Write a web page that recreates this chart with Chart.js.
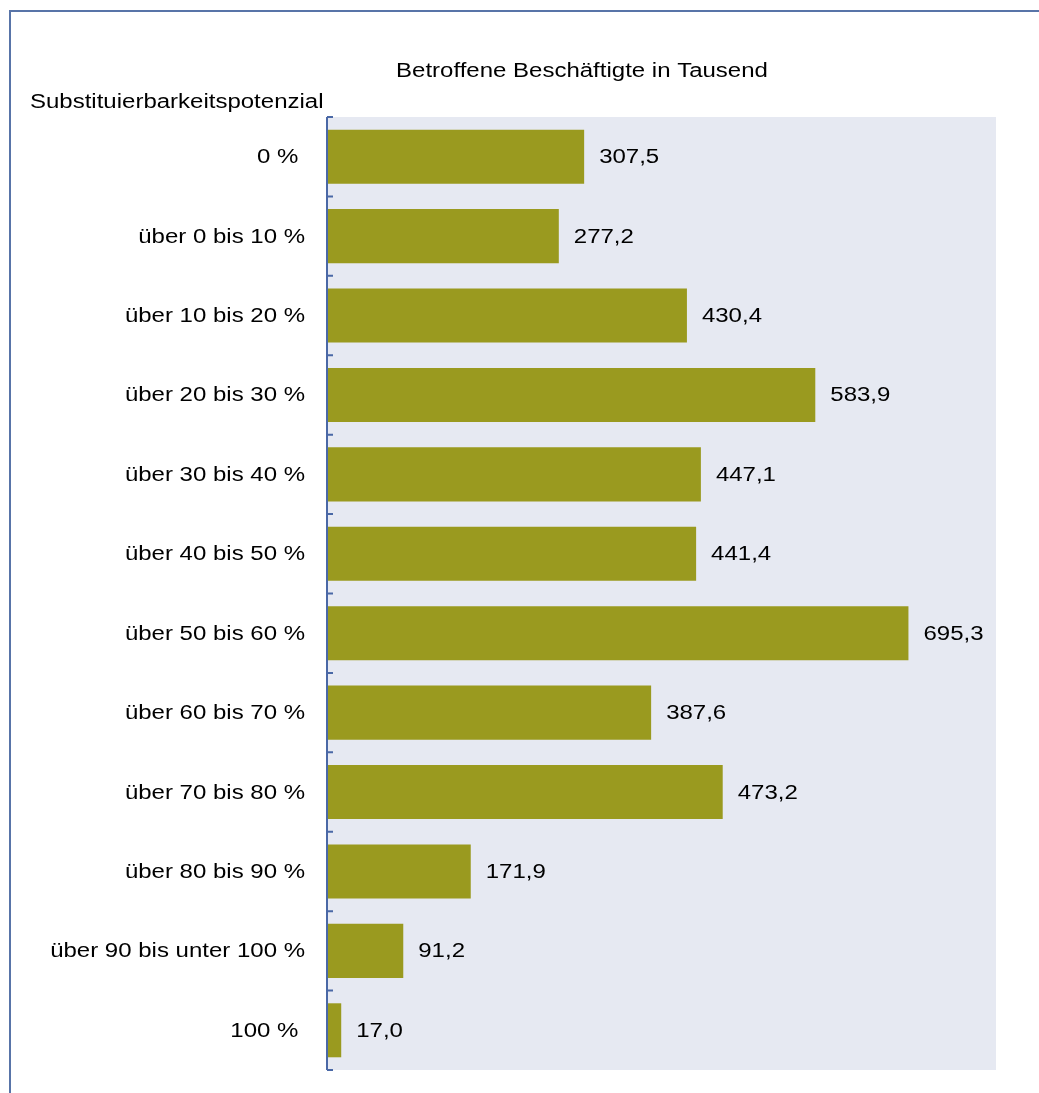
<!DOCTYPE html>
<html>
<head>
<meta charset="utf-8">
<script src="https://cdn.jsdelivr.net/npm/chart.js@4"></script>
<style>
  body { margin: 0; background: #fff; }
  canvas { display: block; }
</style>
</head>
<body>
<canvas id="myChart" width="1039" height="1093"></canvas>
<script>
const categories = ['0 % ', 'über 0 bis 10 %', 'über 10 bis 20 %', 'über 20 bis 30 %', 'über 30 bis 40 %',
  'über 40 bis 50 %', 'über 50 bis 60 %', 'über 60 bis 70 %', 'über 70 bis 80 %', 'über 80 bis 90 %',
  'über 90 bis unter 100 %', '100 % ']
const values = [307.5, 277.2, 430.4, 583.9, 447.1, 441.4, 695.3, 387.6, 473.2, 171.9, 91.2, 17.0]

const FONT = '"Liberation Sans", Arial, sans-serif'
const frameColor = '#5874a8'
const axisColor = '#4a68a6'
const SX = 1.2  // text in the original is a bit wider than plain Arial

// draw text stretched horizontally
function wideText(ctx, txt, x, y, align) {
  ctx.save()
  ctx.translate(x, y)
  ctx.scale(SX, 1)
  ctx.textAlign = align
  ctx.fillText(txt, 0, 0)
  ctx.restore()
}

const decor = {
  id: 'decor',
  beforeDraw(chart) {
    const {ctx, chartArea: a} = chart
    ctx.save()
    ctx.fillStyle = '#e6e9f2'
    ctx.fillRect(a.left, a.top, a.right - a.left, a.bottom - a.top)
    ctx.strokeStyle = frameColor
    ctx.lineWidth = 2
    ctx.beginPath()
    ctx.moveTo(10, 1093)
    ctx.lineTo(10, 11)
    ctx.lineTo(1039, 11)
    ctx.stroke()
    ctx.fillStyle = '#000'
    ctx.font = '20px ' + FONT
    ctx.textBaseline = 'middle'
    wideText(ctx, 'Betroffene Beschäftigte in Tausend', 582, 71, 'center')
    wideText(ctx, 'Substituierbarkeitspotenzial', 30, 102, 'left')
    ctx.restore()
  },
  afterDraw(chart) {
    const {ctx, chartArea: a} = chart
    const ys = chart.scales.y
    ctx.save()
    // axis line with inward ticks at category borders
    ctx.strokeStyle = axisColor
    ctx.lineWidth = 2
    ctx.beginPath()
    ctx.moveTo(a.left, a.top)
    ctx.lineTo(a.left, a.bottom)
    const step = (a.bottom - a.top) / categories.length
    for (let i = 0; i <= categories.length; i++) {
      const ty = a.top + i * step
      ctx.moveTo(a.left, ty)
      ctx.lineTo(a.left + 6, ty)
    }
    ctx.stroke()
    ctx.fillStyle = '#000'
    ctx.font = '20px ' + FONT
    ctx.textBaseline = 'middle'
    // category labels
    categories.forEach((c, i) => {
      wideText(ctx, c, 305, ys.getPixelForValue(i) + 1, 'right')
    })
    // value labels
    chart.getDatasetMeta(0).data.forEach((bar, i) => {
      wideText(ctx, values[i].toFixed(1).replace('.', ','), bar.x + 15, bar.y + 1, 'left')
    })
    ctx.restore()
  }
}

const ctx = document.getElementById('myChart').getContext('2d')
const myChart = new Chart(ctx, {
  type: 'bar',
  data: {
    labels: categories,
    datasets: [{
      data: values,
      backgroundColor: '#9a9a1f',
      borderWidth: 0,
      categoryPercentage: 1,
      barPercentage: 0.68
    }]
  },
  options: {
    indexAxis: 'y',
    responsive: false,
    animation: false,
    devicePixelRatio: 1,
    layout: { padding: { top: 117, right: 43, bottom: 23, left: 0 } },
    plugins: { legend: { display: false }, tooltip: { enabled: false } },
    scales: {
      x: { display: false, min: 0, max: 800 },
      y: {
        afterFit: (s) => { s.width = 327 },
        grid: { display: false },
        border: { display: false },
        ticks: { display: false }
      }
    }
  },
  plugins: [decor]
})
</script>
</body>
</html>
